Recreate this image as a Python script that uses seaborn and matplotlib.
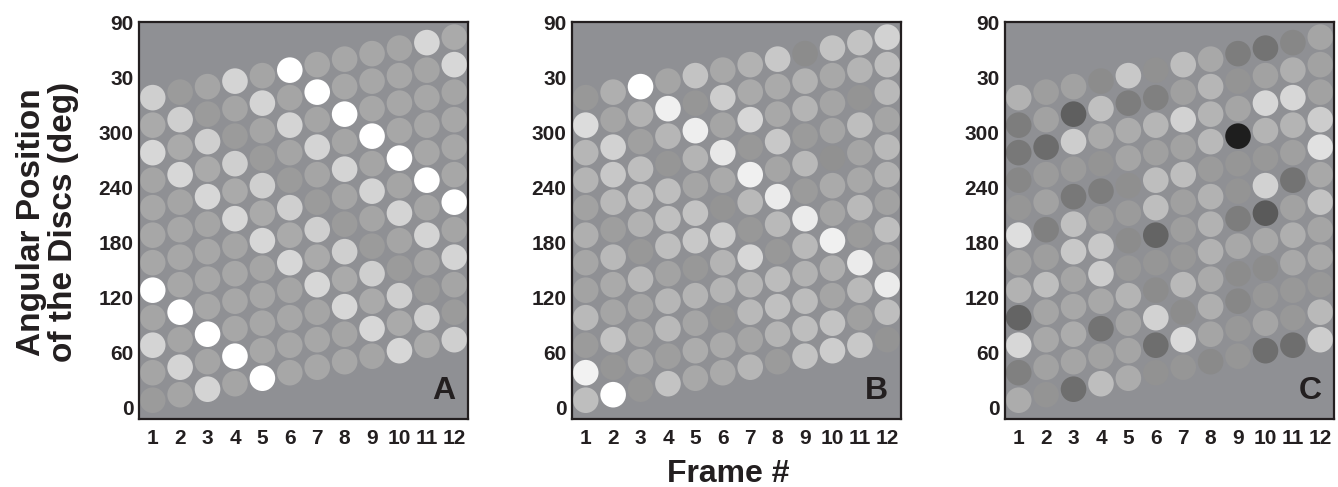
import matplotlib
matplotlib.use("Agg")
import matplotlib.pyplot as plt
import numpy as np
import pandas as pd
import seaborn as sns

# ---------------- data ----------------
frames = list(range(1, 13))
first_disc_angle = 7.5      # deg, lowest disc in frame 1
disc_spacing = 30           # deg between discs within a frame
rotation_per_frame = 6      # deg the disc ring turns each frame
ytick_values = [0, 60, 120, 180, 240, 300, 360, 420]
ytick_labels = ["0", "60", "120", "180", "240", "300", "30", "90"]
panel_labels = ["A", "B", "C"]

# disc luminance (0 = black, 255 = white); one list per frame, discs listed from bottom to top
lum_A = [
    [155, 165, 212, 165, 255, 167, 167, 167, 165, 215, 170, 207],
    [165, 212, 165, 255, 167, 167, 167, 165, 215, 170, 207, 155],
    [212, 165, 255, 167, 167, 167, 165, 215, 170, 207, 155, 165],
    [165, 255, 167, 167, 167, 165, 215, 170, 207, 155, 165, 212],
    [255, 167, 167, 167, 165, 215, 170, 207, 155, 165, 212, 165],
    [167, 167, 167, 165, 215, 170, 207, 155, 165, 212, 165, 255],
    [167, 167, 165, 215, 170, 207, 155, 165, 212, 165, 255, 167],
    [167, 165, 215, 170, 207, 155, 165, 212, 165, 255, 167, 167],
    [165, 215, 170, 207, 155, 165, 212, 165, 255, 167, 167, 167],
    [215, 170, 207, 155, 165, 212, 165, 255, 167, 167, 167, 165],
    [170, 207, 155, 165, 212, 165, 255, 167, 167, 167, 165, 215],
    [207, 155, 165, 212, 165, 255, 167, 167, 167, 165, 215, 170],
]
lum_B = [
    [190, 242, 155, 185, 163, 166, 175, 162, 180, 182, 220, 152],
    [255, 150, 195, 165, 170, 185, 158, 185, 200, 210, 165, 175],
    [150, 168, 165, 165, 185, 152, 178, 190, 190, 160, 178, 255],
    [195, 158, 185, 182, 163, 190, 192, 190, 150, 182, 240, 165],
    [168, 172, 165, 180, 152, 200, 195, 165, 180, 238, 150, 195],
    [170, 170, 148, 180, 180, 205, 148, 170, 232, 165, 205, 168],
    [182, 165, 185, 182, 215, 152, 185, 240, 152, 215, 170, 178],
    [155, 180, 192, 188, 152, 185, 235, 165, 200, 168, 170, 200],
    [195, 190, 188, 178, 185, 235, 155, 185, 155, 180, 178, 140],
    [205, 195, 165, 175, 240, 165, 170, 145, 165, 165, 168, 195],
    [200, 160, 185, 235, 155, 185, 168, 165, 190, 148, 180, 195],
    [148, 190, 235, 163, 190, 162, 178, 185, 165, 185, 190, 210],
]
lum_C = [
    [172, 128, 215, 100, 178, 162, 222, 150, 135, 120, 125, 178],
    [148, 162, 168, 165, 190, 158, 128, 162, 155, 108, 162, 158],
    [110, 165, 172, 168, 165, 200, 192, 120, 155, 205, 95, 162],
    [190, 162, 115, 168, 205, 200, 155, 125, 148, 170, 192, 140],
    [172, 165, 165, 180, 152, 140, 155, 143, 165, 172, 125, 200],
    [146, 110, 210, 140, 150, 100, 190, 190, 160, 182, 128, 145],
    [150, 218, 140, 185, 152, 158, 160, 190, 162, 210, 160, 190],
    [138, 165, 175, 170, 178, 178, 178, 155, 185, 180, 182, 168],
    [150, 152, 135, 140, 168, 125, 148, 150, 30, 165, 148, 125],
    [110, 165, 152, 140, 168, 90, 210, 152, 180, 215, 162, 115],
    [110, 152, 152, 168, 175, 162, 115, 160, 180, 215, 175, 135],
    [205, 185, 152, 168, 165, 195, 168, 225, 205, 162, 162, 165],
]
panels = [lum_A, lum_B, lum_C]


def build_frame_table(lum):
    rows = []
    for f, discs in zip(frames, lum):
        for k, g in enumerate(discs):
            angle = first_disc_angle + disc_spacing * k + rotation_per_frame * (f - 1)
            rows.append({"frame": f, "angle": angle, "lum": g})
    return pd.DataFrame(rows)


# ---------------- style ----------------
sns.set_theme(style="ticks")
plt.rcParams["font.family"] = ["Liberation Sans", "DejaVu Sans"]
plt.rcParams["font.weight"] = "bold"

BG = "#8f9094"
INK = "#231f20"

W, H = 1338, 487
fig = plt.figure(figsize=(W / 100, H / 100), dpi=100)
fig.patch.set_facecolor("white")

lefts = [139, 572, 1005]
ax_w = 329
ax_top, ax_bot = 22, 419

for i, (lum, left) in enumerate(zip(panels, lefts)):
    ax = fig.add_axes([left / W, 1 - ax_bot / H, ax_w / W, (ax_bot - ax_top) / H])
    ax.set_facecolor(BG)
    df = build_frame_table(lum)
    sns.scatterplot(data=df, x="frame", y="angle", hue="lum", palette="gray",
                    hue_norm=(0, 255), s=340, linewidth=0, legend=False, ax=ax)
    ax.set_xlim(0.5, 12.5)
    ax.set_ylim(-13, 420)
    ax.set_xticks(frames)
    ax.set_xticklabels([str(f) for f in frames])
    ax.set_yticks(ytick_values)
    ax.set_yticklabels(ytick_labels)
    ax.tick_params(axis="both", length=0, labelsize=15, labelcolor=INK)
    ax.tick_params(axis="x", pad=7)
    ax.tick_params(axis="y", pad=4)
    for lab in ax.get_xticklabels() + ax.get_yticklabels():
        lab.set_fontweight("bold")
    ax.set_xlabel("")
    ax.set_ylabel("")
    for sp in ax.spines.values():
        sp.set_visible(True)
        sp.set_color(INK)
        sp.set_linewidth(1.6)
    ax.text(0.962, 0.032, panel_labels[i], transform=ax.transAxes, ha="right",
            va="bottom", fontsize=23, fontweight="bold", color=INK)

fig.text(47.5 / W, 1 - 222 / H, "Angular Position\nof the Discs (deg)", rotation=90,
         ha="center", va="center", fontsize=24, fontweight="bold", color=INK,
         linespacing=1.05)
fig.text(728 / W, 1 - 474 / H, "Frame #", ha="center", va="center", fontsize=23,
         fontweight="bold", color=INK)

fig.savefig("out.png", dpi=100)
